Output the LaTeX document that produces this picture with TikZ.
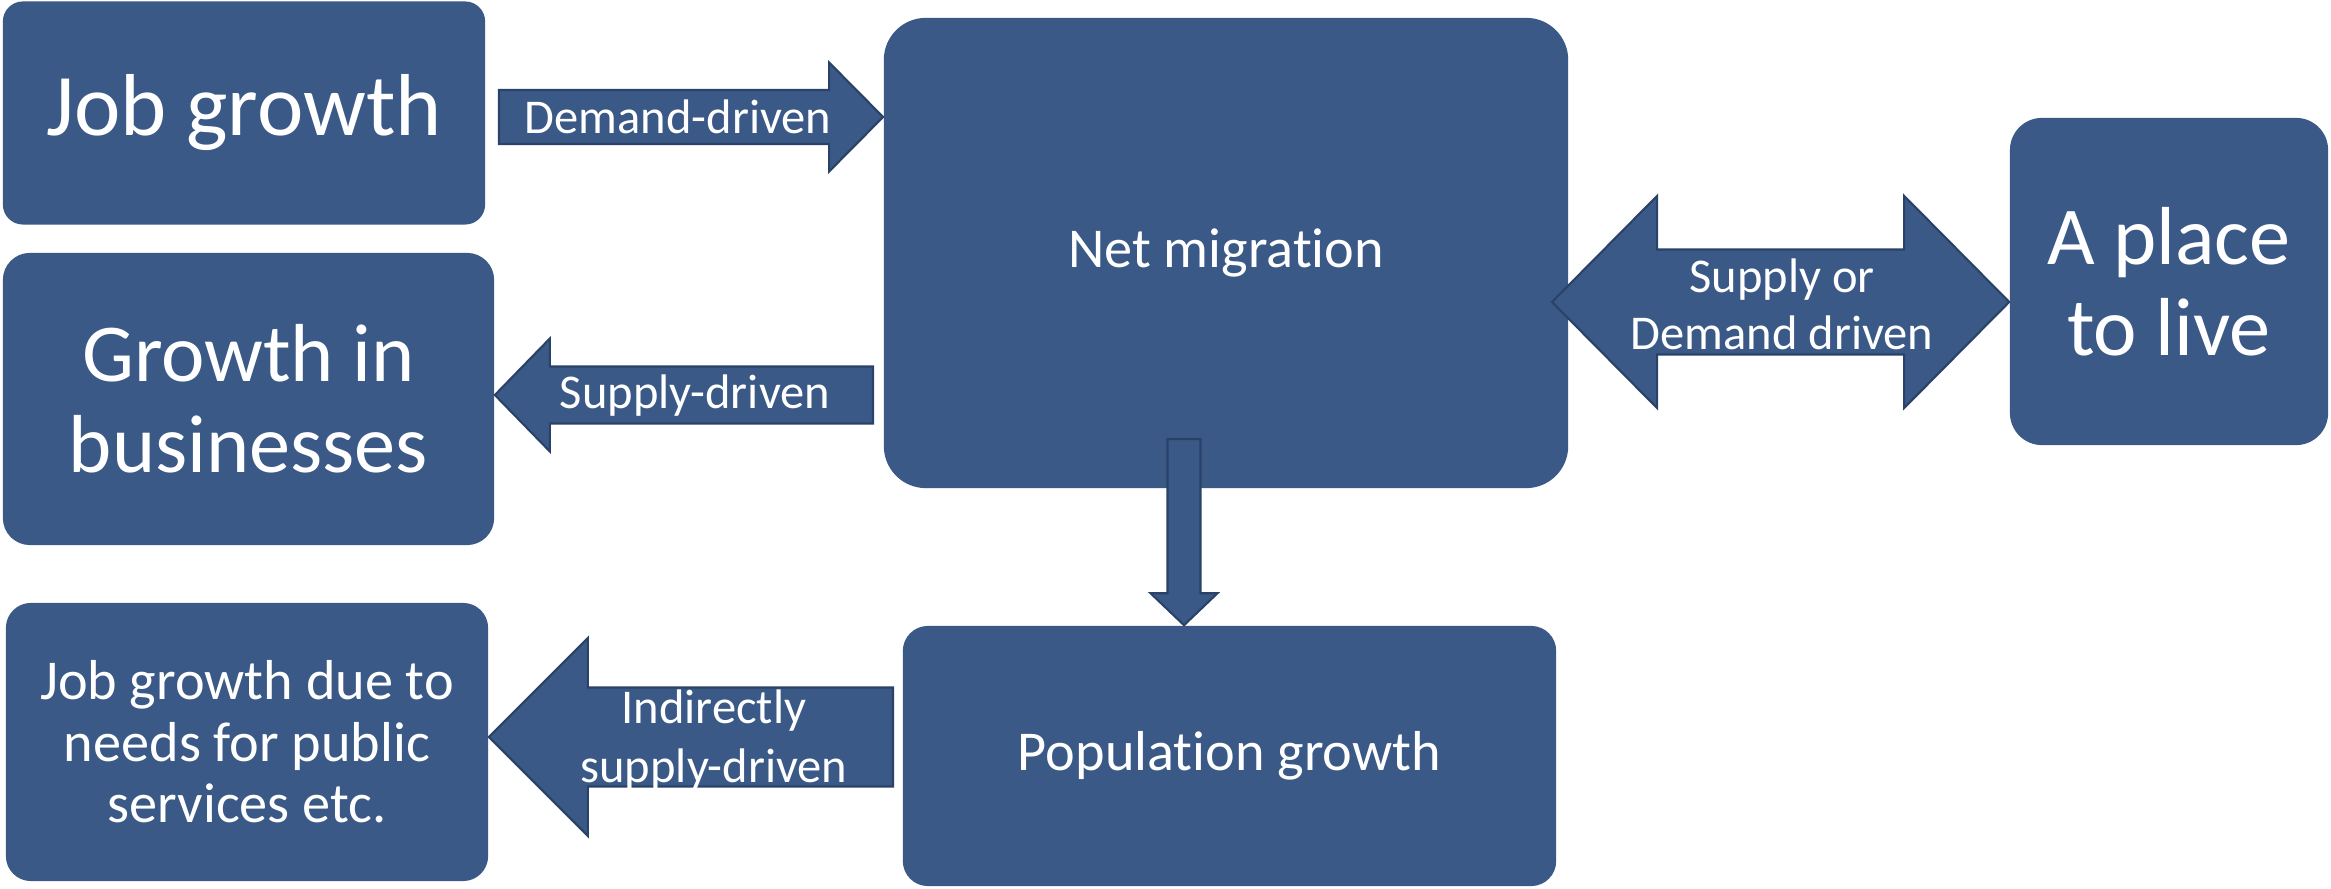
\documentclass[tikz,border=0pt]{standalone}
\usepackage{fontspec}
\setmainfont{Carlito}[Ligatures=NoCommon]
\usetikzlibrary{calc}
\definecolor{boxblue}{RGB}{58,89,135}
\definecolor{arrowline}{RGB}{42,66,104}
% block arrow from tail to tip: (shaft half width : head half width : head length)
\def\blockarrow[#1](#2)(#3)(#4:#5:#6){%
  \coordinate (ba head) at ($(#3)!#6!(#2)$);
  \draw[#1] ($(#2)!#4!90:(#3)$) -- ($(ba head)!#4!90:(#3)$) -- ($(ba head)!#5!90:(#3)$) -- (#3)
    -- ($(ba head)!#5!-90:(#3)$) -- ($(ba head)!#4!-90:(#3)$) -- ($(#2)!#4!-90:(#3)$) -- cycle;}
% same with a head at both ends
\def\doublearrow[#1](#2)(#3)(#4:#5:#6){%
  \coordinate (da left) at ($(#2)!#6!(#3)$);
  \coordinate (da right) at ($(#3)!#6!(#2)$);
  \draw[#1] (#2) -- ($(da left)!#5!90:(#3)$) -- ($(da left)!#4!90:(#3)$) -- ($(da right)!#4!-90:(#2)$)
    -- ($(da right)!#5!-90:(#2)$) -- (#3) -- ($(da right)!#5!90:(#2)$) -- ($(da right)!#4!90:(#2)$)
    -- ($(da left)!#4!-90:(#3)$) -- ($(da left)!#5!-90:(#3)$) -- cycle;}

\begin{document}
\begin{tikzpicture}[x=0.01cm, y=-0.01cm,
    box/.style={fill=boxblue, text=white, rounded corners=#1, inner sep=0pt, align=center},
    box/.default=0.25cm,
    big/.style={font=\fontsize{23.4}{25.9}\selectfont},
    mid/.style={font=\fontsize{16}{17.5}\selectfont},
    arrowfill/.style={fill=boxblue, draw=arrowline, line width=0.6pt, line join=miter},
    arrowtext/.style={text=white, align=center, inner sep=0pt, font=\fontsize{13.8}{16.2}\selectfont}]
	\useasboundingbox (0,0) rectangle (2331,889);
	
	%%%%% boxes
	\node[box=0.2cm, minimum width=4.82cm, minimum height=2.23cm, font=\fontsize{25}{30}\selectfont]
	  (jobs) at (244,113) {Job growth};
	\node[box=0.27cm, big, minimum width=4.91cm, minimum height=2.92cm]
	  (business) at (248.5,399) {Growth in\\businesses};
	\node[box, mid, minimum width=4.82cm, minimum height=2.78cm]
	  (public) at (247,742) {Job growth due to\\needs for public\\services etc.};
	\node[box=0.42cm, mid, minimum width=6.84cm, minimum height=4.70cm]
	  (net) at (1226,253) {Net migration};
	\node[box, mid, minimum width=6.53cm, minimum height=2.60cm]
	  (pop) at (1229.5,756) {Population growth};
	\node[box=0.32cm, big, minimum width=3.18cm, minimum height=3.27cm]
	  (place) at (2169,281.5) {A place\\to live};
	
	%%%%% arrow ends
	\coordinate (dd tail) at (499,117);
	\coordinate (dd tip) at (net.west |- dd tail);
	\coordinate (sd tail) at (873,395);
	\coordinate (sd tip) at (business.east |- sd tail);
	\coordinate (sp left) at (1552,302);
	\coordinate (sp right) at (place.west |- sp left);
	\coordinate (np tail) at (1184,439);
	\coordinate (np tip) at (np tail |- pop.north);
	\coordinate (is tail) at (893,737);
	\coordinate (is tip) at (public.east |- is tail);
	
	%%%%% arrows
	\blockarrow[arrowfill](dd tail)(dd tip)(0.27cm:0.545cm:0.54cm)
	\blockarrow[arrowfill](sd tail)(sd tip)(0.285cm:0.565cm:0.55cm)
	\doublearrow[arrowfill](sp left)(sp right)(0.525cm:1.06cm:1.05cm)
	\blockarrow[arrowfill](np tail)(np tip)(0.165cm:0.335cm:0.32cm)
	\blockarrow[arrowfill](is tail)(is tip)(0.495cm:0.99cm:0.99cm)
	
	\node[arrowtext] (dd label) at (678,117) {Demand-driven};
	\node[arrowtext] (sd label) at (695,396) {Supply-driven};
	\node[arrowtext] (sp label) at (1782,304) {Supply or\\Demand driven};
	\node[arrowtext, font=\fontsize{13.8}{17}\selectfont] (is label) at (714,740) {Indirectly\\supply-driven};
\end{tikzpicture}
\end{document}
